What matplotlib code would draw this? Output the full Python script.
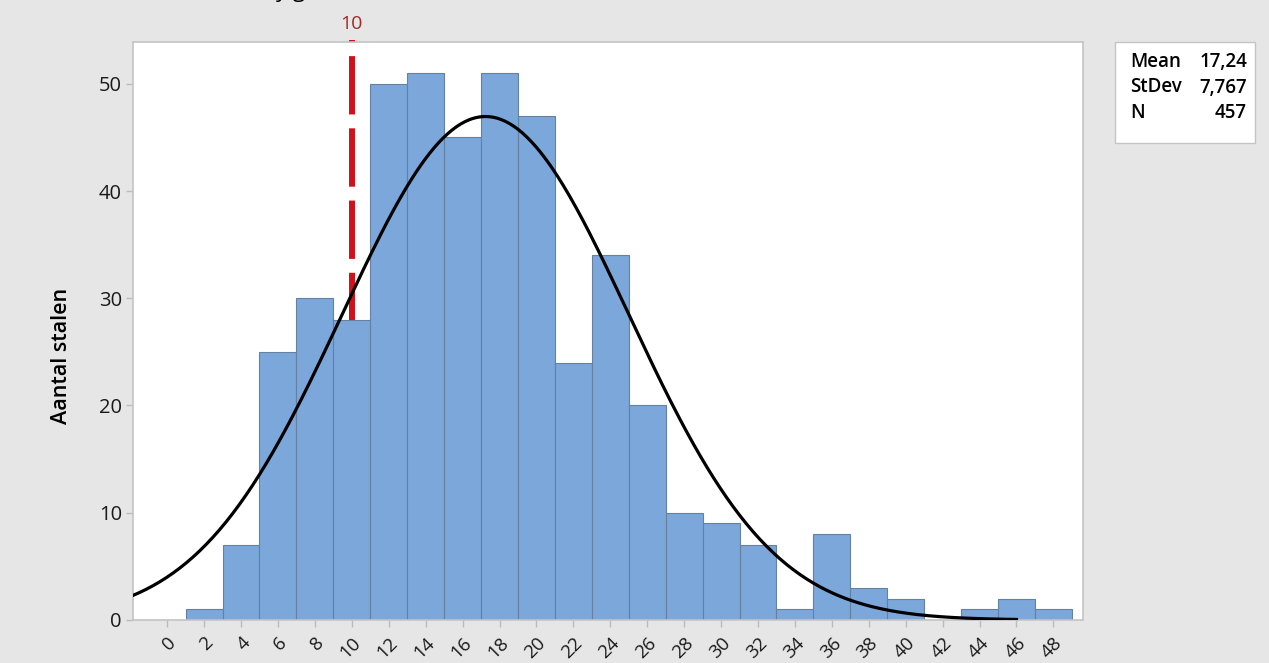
import matplotlib
matplotlib.use("Agg")
import matplotlib.pyplot as plt
import numpy as np

plt.rcParams['font.family'] = ['Open Sans', 'DejaVu Sans']
plt.rcParams['lines.scale_dashes'] = False

# histogram data (bin width 2, bins centred on even values)
bin_centers = [2, 4, 6, 8, 10, 12, 14, 16, 18, 20, 22, 24, 26, 28, 30, 32, 34, 36, 38, 40, 42, 44, 46, 48]
counts = [1, 7, 25, 30, 28, 50, 51, 45, 51, 47, 24, 34, 20, 10, 9, 7, 1, 8, 3, 2, 0, 1, 2, 1]
bin_width = 2
mean, stdev, n = 17.24, 7.767, 457
ref_value = 10
x_ticks = list(range(0, 50, 2))
y_ticks = [0, 10, 20, 30, 40, 50]
stat_names = ['Mean', 'StDev', 'N']
stat_values = ['17,24', '7,767', '457']

bg = '#e6e6e6'
fig = plt.figure(figsize=(12.69, 6.63), dpi=100, facecolor=bg)
ax = fig.add_axes([0.1048, 0.0649, 0.7486, 0.8718])
ax.set_facecolor('white')

# reference line behind the bars
ax.plot([ref_value, ref_value], [0, 54.1], color='#d0101a', lw=4.3,
        dashes=(42, 10), zorder=1, clip_on=False, solid_capstyle='butt')
ax.text(ref_value, 54.7, str(ref_value), color='#a32a2a', fontsize=14,
        ha='center', va='bottom')

ax.bar(bin_centers, counts, width=bin_width, color='#7ba7db',
       edgecolor='#6580a0', linewidth=0.8, zorder=2)

# fitted normal curve
xs = np.linspace(-1.85, 46, 400)
ys = n * bin_width / (stdev * np.sqrt(2 * np.pi)) * np.exp(-0.5 * ((xs - mean) / stdev) ** 2)
ax.plot(xs, ys, color='black', lw=2.3, zorder=3)

ax.set_xlim(-1.85, 49.6)
ax.set_ylim(0, 53.9)
ax.set_xticks(x_ticks)
ax.set_xticklabels([str(t) for t in x_ticks], rotation=45, ha='right',
                   rotation_mode='anchor', fontsize=13.5)
ax.set_yticks(y_ticks)
ax.set_yticklabels([str(t) for t in y_ticks], fontsize=14.5)
ax.tick_params(axis='both', colors='#bbbbbb', length=5, width=1, labelcolor='#1a1a1a')
ax.tick_params(axis='y', pad=3)
ax.tick_params(axis='x', pad=5)
for s in ax.spines.values():
    s.set_color('#c4c4c4')
    s.set_linewidth(1.2)

ax.set_ylabel('Aantal stalen', fontsize=15.5, fontweight='semibold')
ax.yaxis.set_label_coords(-0.064, 0.456)

# statistics box
rect = plt.Rectangle((0.8787, 0.784), 0.1103, 0.153, transform=fig.transFigure,
                     facecolor='white', edgecolor='#c4c4c4', lw=1.0, zorder=0)
fig.patches.append(rect)
for i, (name, val) in enumerate(zip(stat_names, stat_values)):
    y = 1 - (62 + 25.5 * i) / 663
    fig.text(0.8905, y, name, fontsize=13.5, fontweight='semibold', ha='left', va='center')
    fig.text(0.9827, y, val, fontsize=13.5, fontweight='semibold', ha='right', va='center')

# cut-off title text at the very top (only descenders visible)
fig.text(0.2175, 1.0 + 3 / 663, 'y g', fontsize=16, va='baseline', ha='left')

fig.savefig('out.png', dpi=100, facecolor=bg)
